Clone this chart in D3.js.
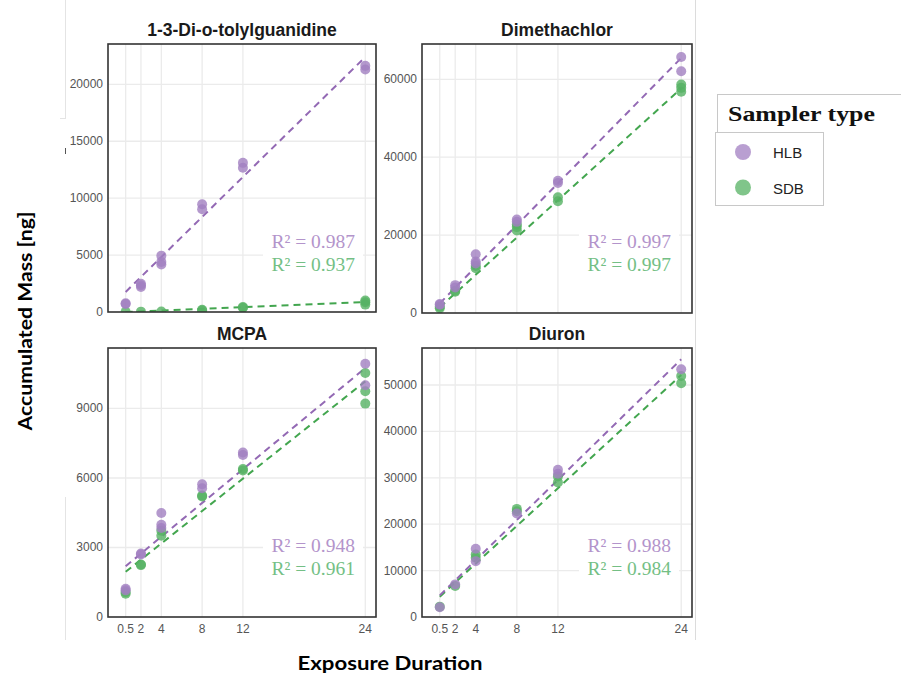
<!DOCTYPE html>
<html><head><meta charset="utf-8">
<script src="https://cdn.jsdelivr.net/npm/d3@7"></script>
<style>body{margin:0;background:#fff;} svg{display:block;}</style>
</head><body>
<svg id="chart" width="901" height="673"></svg>
<script>
// ---------------- data ----------------
const compounds = ["1-3-Di-o-tolylguanidine", "Dimethachlor", "MCPA", "Diuron"];
const xTicks = [0.5, 2, 4, 8, 12, 24];
const xTickLabels = ["0.5", "2", "4", "8", "12", "24"];
const yTicksDPG = [0, 5000, 10000, 15000, 20000];
const yTicksDim = [0, 20000, 40000, 60000];
const yTicksMCPA = [0, 3000, 6000, 9000];
const yTicksDiu = [0, 10000, 20000, 30000, 40000, 50000];
const yMax = [23540, 69060, 11610, 57970];

const dpgHLB = [[0.5,700],[0.5,760],[2,2200],[2,2350],[2,2480],[4,4170],[4,4400],[4,4950],[8,9030],[8,9470],[12,12670],[12,13100],[24,21300],[24,21620]];
const dpgSDB = [[0.5,10],[2,30],[4,40],[8,130],[8,200],[12,380],[12,430],[24,650],[24,850],[24,1000]];
const dimHLB = [[0.5,2100],[0.5,2300],[2,6560],[2,7150],[4,12700],[4,13200],[4,15070],[8,23400],[8,24000],[12,33380],[12,33970],[24,62070],[24,65700]];
const dimSDB = [[0.5,1200],[0.5,1600],[2,5440],[2,5700],[4,11500],[4,12080],[8,21200],[8,22050],[8,22700],[12,28700],[12,29700],[24,56780],[24,57800],[24,58670]];
const mcpaHLB = [[0.5,1150],[0.5,1220],[2,2700],[2,2740],[4,3840],[4,3985],[4,4490],[8,5560],[8,5730],[12,6990],[12,7100],[24,10000],[24,10930]];
const mcpaSDB = [[0.5,1005],[0.5,1075],[2,2240],[2,2265],[4,3510],[4,3725],[8,5200],[8,5240],[12,6320],[12,6390],[24,9210],[24,9740],[24,10530]];
const diuHLB = [[0.5,2100],[2,7030],[4,12040],[4,14700],[8,22290],[12,30880],[12,31740],[24,53380]];
const diuSDB = [[0.5,2230],[2,6670],[4,12760],[4,13470],[8,22780],[8,23300],[12,29010],[12,30300],[24,50370],[24,51940]];

// fitted line values at x = 0.5 and x = 24
const fitHLB = [[1760, 22400], [2470, 65470], [2190, 10745], [4660, 55530]];
const fitSDB = [[0, 870], [1450, 57650], [1950, 10170], [4380, 52160]];
const r2HLB = ["0.987", "0.997", "0.948", "0.988"];
const r2SDB = ["0.937", "0.997", "0.961", "0.984"];
const legendLabels = ["HLB", "SDB"];

// ---------------- layout ----------------
const svg = d3.select("#chart");
const panels = [
  {l:108, r:376, t:44, b:312, yt:yTicksDPG, hlb:dpgHLB, sdb:dpgSDB, xlab:false},
  {l:422, r:692, t:44, b:313, yt:yTicksDim, hlb:dimHLB, sdb:dimSDB, xlab:false},
  {l:108, r:376, t:348, b:617, yt:yTicksMCPA, hlb:mcpaHLB, sdb:mcpaSDB, xlab:true},
  {l:422, r:692, t:348, b:617, yt:yTicksDiu, hlb:diuHLB, sdb:diuSDB, xlab:true}
];
const colPtHLB = "#a17fc1", colPtSDB = "#55b163";
const colLnHLB = "#9369b4", colLnSDB = "#43a64f";
const colTxHLB = "#b394cb", colTxSDB = "#74bf85";

// screenshot frame artifacts
svg.append("line").attr("x1",695.5).attr("x2",695.5).attr("y1",0).attr("y2",640).attr("stroke","#dcdcdc").attr("stroke-width",1);
svg.append("line").attr("x1",65.5).attr("x2",65.5).attr("y1",0).attr("y2",118).attr("stroke","#e4e4e4");
svg.append("line").attr("x1",60).attr("x2",66).attr("y1",118.5).attr("y2",118.5).attr("stroke","#e4e4e4");
svg.append("line").attr("x1",65.5).attr("x2",65.5).attr("y1",497).attr("y2",640).attr("stroke","#e4e4e4");
svg.append("line").attr("x1",65.5).attr("x2",65.5).attr("y1",148).attr("y2",154).attr("stroke","#555");

panels.forEach((p, i) => {
  const x = d3.scaleLinear().domain([-1.23, 25.05]).range([p.l, p.r]);
  const y = d3.scaleLinear().domain([0, yMax[i]]).range([p.b, p.t]);
  const g = svg.append("g");
  const clipId = "clip" + i;
  svg.append("defs").append("clipPath").attr("id", clipId)
    .append("rect").attr("x", p.l).attr("y", p.t).attr("width", p.r - p.l).attr("height", p.b - p.t);

  // gridlines
  g.selectAll(".gx").data(xTicks).join("line")
    .attr("x1", d => x(d)).attr("x2", d => x(d)).attr("y1", p.t).attr("y2", p.b)
    .attr("stroke", "#ebebeb").attr("stroke-width", 1.3);
  g.selectAll(".gy").data(p.yt.filter(d => d > 0)).join("line")
    .attr("x1", p.l).attr("x2", p.r).attr("y1", d => y(d)).attr("y2", d => y(d))
    .attr("stroke", "#ebebeb").attr("stroke-width", 1.3);

  // R² labels with white background
  const tx = p.r - 21, ty1 = p.t + 204, ty2 = ty1 + 23;
  g.append("rect").attr("x", tx - 92).attr("y", ty1 - 17).attr("width", 100).attr("height", 44).attr("fill", "#fff");
  g.append("text").attr("x", tx).attr("y", ty1).attr("text-anchor", "end")
    .style("font-family", "'Liberation Serif', serif").style("font-size", "19.5px").attr("fill", colTxHLB)
    .text("R² = " + r2HLB[i]);
  g.append("text").attr("x", tx).attr("y", ty2).attr("text-anchor", "end")
    .style("font-family", "'Liberation Serif', serif").style("font-size", "19.5px").attr("fill", colTxSDB)
    .text("R² = " + r2SDB[i]);

  // fit lines
  const line = d3.line().x(d => x(d[0])).y(d => y(d[1]));
  const lg = g.append("g").attr("clip-path", `url(#${clipId})`);
  lg.append("path").datum([[0.5, fitSDB[i][0]], [24, fitSDB[i][1]]]).attr("d", line)
    .attr("fill", "none").attr("stroke", colLnSDB).attr("stroke-width", 2).attr("stroke-dasharray", "7,5");
  lg.append("path").datum([[0.5, fitHLB[i][0]], [24, fitHLB[i][1]]]).attr("d", line)
    .attr("fill", "none").attr("stroke", colLnHLB).attr("stroke-width", 2).attr("stroke-dasharray", "7,5");

  // points
  lg.selectAll(".ps").data(p.sdb).join("circle")
    .attr("cx", d => x(d[0])).attr("cy", d => y(d[1])).attr("r", 5)
    .attr("fill", colPtSDB).attr("fill-opacity", 0.8);
  lg.selectAll(".ph").data(p.hlb).join("circle")
    .attr("cx", d => x(d[0])).attr("cy", d => y(d[1])).attr("r", 5)
    .attr("fill", colPtHLB).attr("fill-opacity", 0.8);

  // border
  g.append("rect").attr("x", p.l).attr("y", p.t).attr("width", p.r - p.l).attr("height", p.b - p.t)
    .attr("fill", "none").attr("stroke", "#333").attr("stroke-width", 1.6);

  // y tick labels
  g.selectAll(".yl").data(p.yt).join("text")
    .attr("x", p.l - 5).attr("y", d => y(d) + 4).attr("text-anchor", "end")
    .style("font-family", "'Liberation Sans', Arial, sans-serif").style("font-size", "12px")
    .attr("fill", "#555").text(d => d);

  // x tick labels
  if (p.xlab) {
    g.selectAll(".xl").data(xTicks).join("text")
      .attr("x", d => x(d)).attr("y", p.b + 16).attr("text-anchor", "middle")
      .style("font-family", "'Liberation Sans', Arial, sans-serif").style("font-size", "12px")
      .attr("fill", "#555").text((d, k) => xTickLabels[k]);
  }

  // title
  g.append("text").attr("x", (p.l + p.r) / 2).attr("y", p.t - 8).attr("text-anchor", "middle")
    .style("font-family", "'Liberation Sans', Arial, sans-serif").style("font-size", "17.5px").style("font-weight", "bold")
    .attr("fill", "#1a1a1a").text(compounds[i]);
});

// axis titles
svg.append("text").attr("transform", "translate(32,321) rotate(-90)").attr("text-anchor", "middle")
  .style("font-family", "Lato, 'Open Sans', sans-serif").style("font-size", "18px").style("font-weight", "bold")
  .attr("textLength", 219).attr("lengthAdjust", "spacingAndGlyphs")
  .attr("fill", "#000").text("Accumulated Mass [ng]");
svg.append("text").attr("x", 390).attr("y", 670).attr("text-anchor", "middle")
  .style("font-family", "Lato, 'Open Sans', sans-serif").style("font-size", "18px").style("font-weight", "bold")
  .attr("textLength", 185).attr("lengthAdjust", "spacingAndGlyphs")
  .attr("fill", "#000").text("Exposure Duration");

// legend
const lg = svg.append("g");
lg.append("rect").attr("x", 717).attr("y", 94).attr("width", 200).attr("height", 38).attr("fill", "#fff");
lg.append("line").attr("x1", 717).attr("x2", 901).attr("y1", 94.5).attr("y2", 94.5).attr("stroke", "#c8c8c8");
lg.append("line").attr("x1", 717.5).attr("x2", 717.5).attr("y1", 94).attr("y2", 132).attr("stroke", "#c8c8c8");
lg.append("text").attr("x", 728).attr("y", 121)
  .style("font-family", "'Liberation Serif', serif").style("font-size", "21px").style("font-weight", "bold")
  .attr("textLength", 147).attr("lengthAdjust", "spacingAndGlyphs")
  .attr("fill", "#111").text("Sampler type");
lg.append("rect").attr("x", 715.5).attr("y", 132.5).attr("width", 108).attr("height", 73).attr("fill", "#fff").attr("stroke", "#c8c8c8");
const keyCols = [colPtHLB, colPtSDB];
lg.selectAll(".kc").data(legendLabels).join("circle")
  .attr("cx", 743).attr("cy", (d, k) => 152 + k * 35.5).attr("r", 8)
  .attr("fill", (d, k) => keyCols[k]).attr("fill-opacity", 0.75);
lg.selectAll(".kt").data(legendLabels).join("text")
  .attr("x", 773).attr("y", (d, k) => 158 + k * 35.5)
  .style("font-family", "'Liberation Sans', Arial, sans-serif").style("font-size", "15px")
  .attr("fill", "#222").text(d => d);
</script>
</body></html>
